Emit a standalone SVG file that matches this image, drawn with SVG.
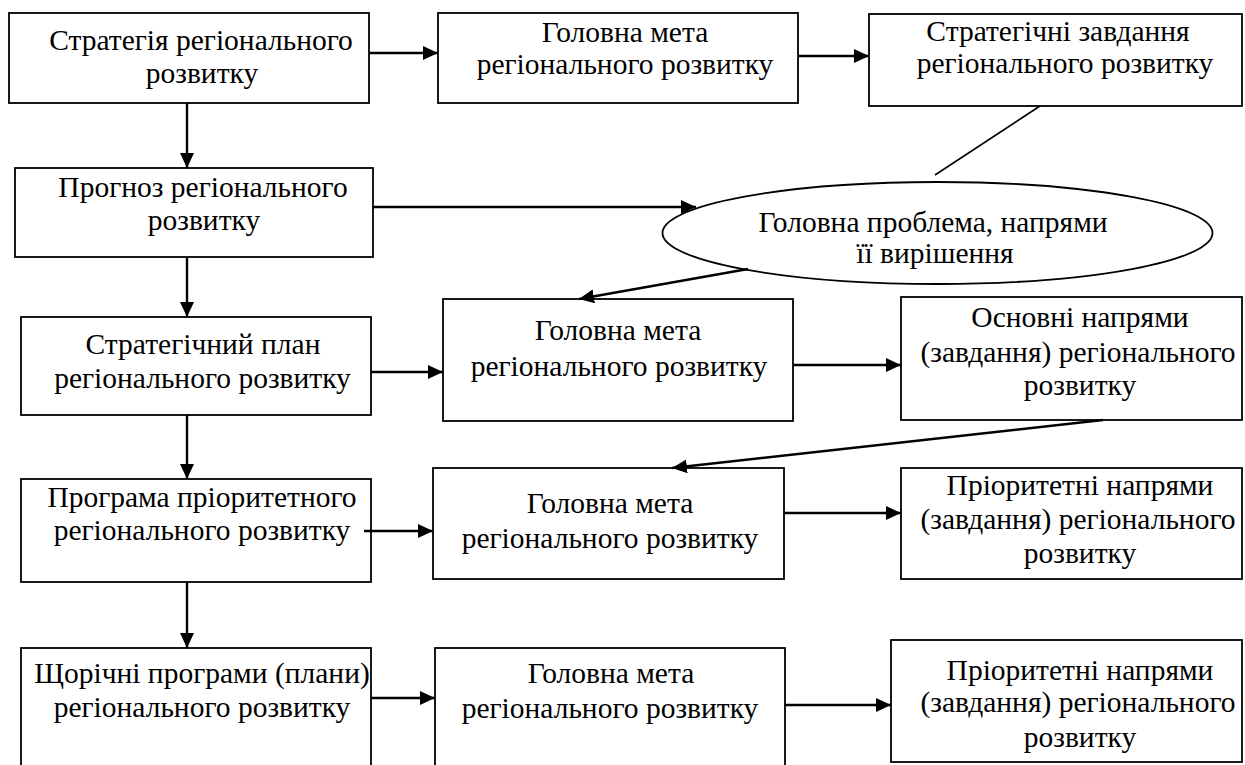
<svg xmlns="http://www.w3.org/2000/svg" width="1245" height="765" viewBox="0 0 1245 765">
<style>
.box{fill:#fff;stroke:#000;stroke-width:1.8}
.t{font-family:"Liberation Serif","Times New Roman",serif;font-size:29.5px;fill:#000;text-anchor:middle}
.c{stroke:#000;stroke-width:2.4;fill:none}
.thin{stroke:#000;stroke-width:1.6;fill:none}
</style>
<defs>
<marker id="ah" markerUnits="userSpaceOnUse" markerWidth="16" markerHeight="14" refX="15" refY="7" orient="auto">
<path d="M0,0 L15,7 L0,14 z" fill="#000"/>
</marker>
</defs>
<rect width="1245" height="765" fill="#fff"/>
<g id="n1"><rect class="box" x="9" y="13" width="360" height="90"/>
<text class="t" x="201" y="50">Стратегія регіонального</text><text class="t" x="202" y="83">розвитку</text></g>
<g id="n2"><rect class="box" x="438" y="13" width="360" height="90"/>
<text class="t" x="625" y="42">Головна мета</text><text class="t" x="625" y="74">регіонального розвитку</text></g>
<g id="n3"><rect class="box" x="869" y="14" width="373" height="92"/>
<text class="t" x="1058" y="41">Стратегічні завдання</text><text class="t" x="1065" y="73">регіонального розвитку</text></g>
<g id="n4"><rect class="box" x="15" y="168" width="358" height="89"/>
<text class="t" x="203" y="197">Прогноз регіонального</text><text class="t" x="204" y="230">розвитку</text></g>
<g id="n5"><ellipse class="box" cx="937.5" cy="233" rx="275" ry="51"/>
<text class="t" x="933" y="232">Головна проблема, напрями</text><text class="t" x="935" y="263">її вирішення</text></g>
<g id="n6"><rect class="box" x="21" y="317" width="350" height="98"/>
<text class="t" x="203" y="354">Стратегічний план</text><text class="t" x="202.5" y="388">регіонального розвитку</text></g>
<g id="n7"><rect class="box" x="443" y="299" width="350" height="122"/>
<text class="t" x="618" y="340">Головна мета</text><text class="t" x="619" y="376">регіонального розвитку</text></g>
<g id="n8"><rect class="box" x="901" y="297" width="341" height="123"/>
<text class="t" x="1080" y="327">Основні напрями</text><text class="t" x="1078" y="362">(завдання) регіонального</text><text class="t" x="1080" y="395">розвитку</text></g>
<g id="n9"><rect class="box" x="21" y="479" width="350" height="103"/>
<text class="t" x="202" y="507">Програма пріоритетного</text><text class="t" x="202" y="540">регіонального розвитку</text></g>
<g id="n10"><rect class="box" x="433" y="468" width="351" height="111"/>
<text class="t" x="610" y="513">Головна мета</text><text class="t" x="610" y="548">регіонального розвитку</text></g>
<g id="n11"><rect class="box" x="901" y="468" width="341" height="111"/>
<text class="t" x="1080" y="495">Пріоритетні напрями</text><text class="t" x="1078" y="529">(завдання) регіонального</text><text class="t" x="1080" y="563">розвитку</text></g>
<g id="n12"><rect class="box" x="21" y="648" width="350" height="130"/>
<text class="t" x="202" y="683">Щорічні програми (плани)</text><text class="t" x="202" y="717">регіонального розвитку</text></g>
<g id="n13"><rect class="box" x="435" y="648" width="350" height="130"/>
<text class="t" x="611" y="683">Головна мета</text><text class="t" x="610" y="718">регіонального розвитку</text></g>
<g id="n14"><rect class="box" x="891" y="640" width="351" height="122"/>
<text class="t" x="1080" y="680">Пріоритетні напрями</text><text class="t" x="1078" y="712">(завдання) регіонального</text><text class="t" x="1080" y="747">розвитку</text></g>
<g id="connectors">
<line class="c" x1="369" y1="53" x2="438" y2="53" marker-end="url(#ah)"/>
<line class="c" x1="798" y1="56" x2="869" y2="56" marker-end="url(#ah)"/>
<line class="thin" x1="1040" y1="106" x2="935" y2="175"/>
<line class="c" x1="187" y1="103" x2="187" y2="168" marker-end="url(#ah)"/>
<line class="c" x1="373" y1="207" x2="696" y2="207" marker-end="url(#ah)"/>
<line class="c" x1="187" y1="257" x2="187" y2="317" marker-end="url(#ah)"/>
<line class="c" x1="748" y1="269" x2="579" y2="299" marker-end="url(#ah)"/>
<line class="c" x1="371" y1="372" x2="443" y2="372" marker-end="url(#ah)"/>
<line class="c" x1="793" y1="365" x2="901" y2="365" marker-end="url(#ah)"/>
<line class="c" x1="187" y1="415" x2="187" y2="479" marker-end="url(#ah)"/>
<line class="c" x1="1103" y1="420" x2="672" y2="468" marker-end="url(#ah)"/>
<line class="c" x1="364" y1="531" x2="433" y2="531" marker-end="url(#ah)"/>
<line class="c" x1="784" y1="513" x2="901" y2="513" marker-end="url(#ah)"/>
<line class="c" x1="187" y1="582" x2="187" y2="648" marker-end="url(#ah)"/>
<line class="c" x1="371" y1="698" x2="435" y2="698" marker-end="url(#ah)"/>
<line class="c" x1="785" y1="705" x2="891" y2="705" marker-end="url(#ah)"/>
</g>
</svg>
